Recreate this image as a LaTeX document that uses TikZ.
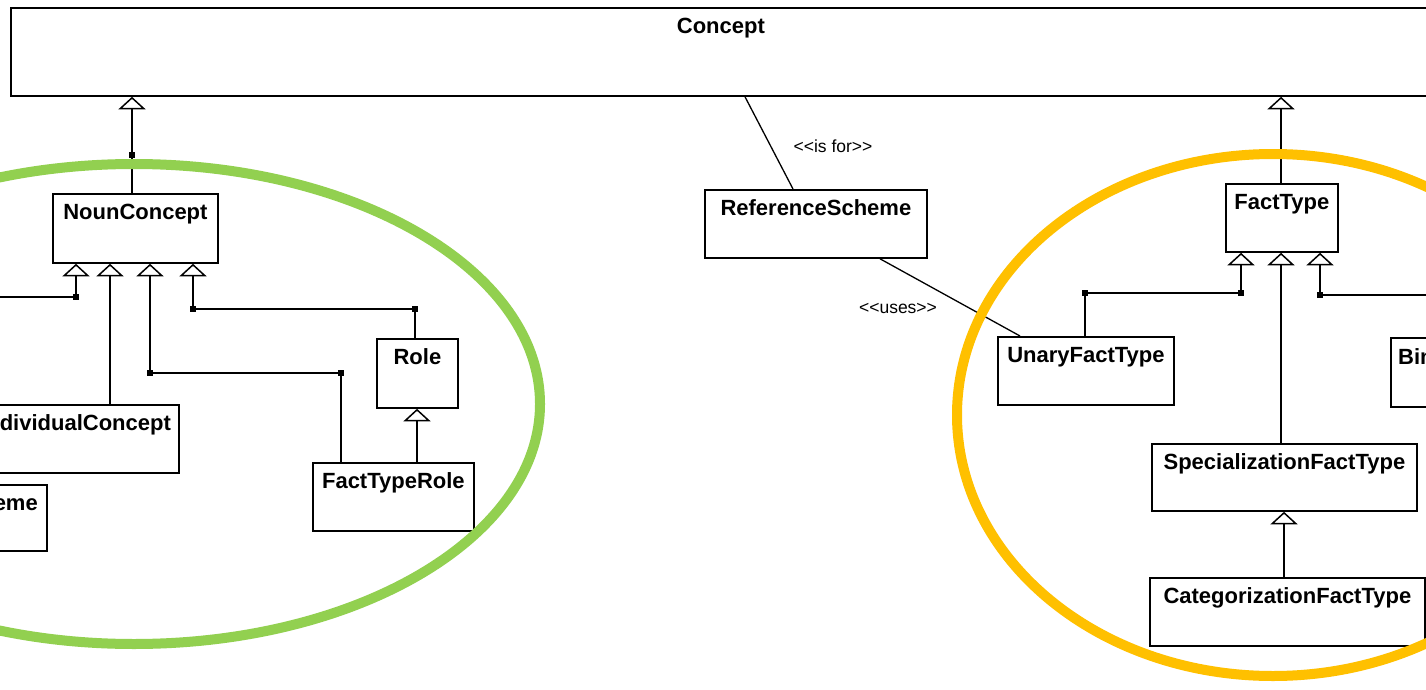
\documentclass[tikz,border=0pt]{standalone}
\usepackage{fontspec}
\setmainfont{Liberation Sans}
\usetikzlibrary{arrows.meta,calc}
\definecolor{ellgreen}{HTML}{92D050}
\definecolor{ellorange}{HTML}{FFC000}
\tikzset{
  cls/.style={draw, line width=1.8pt, anchor=north west, inner sep=0pt,
    font=\fontsize{22}{26}\selectfont\bfseries, text height=26pt},
  clstext/.style={inner sep=0pt, font=\fontsize{22}{26}\selectfont\bfseries},
  gen/.style={line width=1.8pt, -{Triangle[fill=white, width=27pt, length=12.5pt, line width=1.5pt]}},
  conn/.style={line width=1.8pt},
  assoc/.style={line width=1.3pt},
  jdot/.style={fill, minimum size=6pt, inner sep=0pt},
  lbl/.style={font=\fontsize{17.5}{20}\selectfont},
  ell/.style={line width=10pt}
}
\begin{document}
\begin{tikzpicture}[x=1pt,y=-1pt]
\clip (0,0) rectangle (1426,690);
\fill[white] (0,0) rectangle (1426,690);
% boxes
\node[cls, minimum width=1420pt, minimum height=88pt, text depth=62pt] (concept) at (10,7) {Concept};
\node[cls, minimum width=165pt, minimum height=69pt, text depth=43pt] (nc) at (52,193) {NounConcept};
\node[cls, minimum width=207pt, minimum height=68pt, text depth=42pt, text width=191pt, align=right] (indiv) at (-29,404) {dividualConcept};
\node[cls, minimum width=146pt, minimum height=66pt] (eme) at (-100,484) {};
\node[clstext, anchor=base east] (emet) at (38,510) {eme};
\node[cls, minimum width=81pt, minimum height=69pt, text depth=43pt] (role) at (376,338) {Role};
\node[cls, minimum width=161pt, minimum height=68pt, text depth=42pt] (ftr) at (312,462) {FactTypeRole};
\node[cls, minimum width=222pt, minimum height=68pt, text depth=42pt] (rs) at (704,189) {ReferenceScheme};
\node[cls, minimum width=112pt, minimum height=68pt, text depth=42pt] (ft) at (1225,183) {FactType};
\node[cls, minimum width=176pt, minimum height=68pt, text depth=42pt] (unary) at (997,336) {UnaryFactType};
\node[cls, minimum width=110pt, minimum height=69pt] (bin) at (1390,337) {};
\node[clstext, anchor=base west] (bint) at (1398,364) {Bin};
\node[cls, minimum width=265pt, minimum height=67pt, text depth=41pt] (spec) at (1151,443) {SpecializationFactType};
\node[cls, minimum width=275pt, minimum height=68pt, text depth=42pt] (cat) at (1149,577) {CategorizationFactType};
% Concept <- NounConcept
\node[jdot] (d0) at (132,155) {};
\draw[gen] (nc.north -| d0) -- (concept.south -| d0);
% left group
\node[jdot] (d1) at (76,297) {};
\coordinate (e1) at (-5,297);
\draw[conn] (e1) -- (d1.center);
\draw[gen] (d1.center) -- (nc.south -| d1);
\draw[gen] (indiv.north -| 110,0) -- (nc.south -| 110,0);
\node[jdot] (d2) at (150,373) {};
\node[jdot] (d3) at (341,373) {};
\draw[gen] (ftr.north -| d3) -- (d3.center) -- (d2.center) -- (nc.south -| d2);
\node[jdot] (d4) at (193,309) {};
\node[jdot] (d5) at (415,309) {};
\draw[gen] (role.north -| d5) -- (d5.center) -- (d4.center) -- (nc.south -| d4);
\draw[gen] (ftr.north -| 417,0) -- (role.south -| 417,0);
% associations
\draw[assoc] (rs.north -| 793,0) -- (concept.south -| 745,0);
\node[lbl] (l1) at (833,146) {<\kern0pt<is for>\kern0pt>};
\draw[assoc] (rs.south -| 880,0) -- (unary.north -| 1020,0);
\node[lbl] (l2) at (898,308) {<\kern0pt<uses>\kern0pt>};
% right group
\draw[gen] (ft.north -| 1281,0) -- (concept.south -| 1281,0);
\node[jdot] (d6) at (1241,293) {};
\node[jdot] (d7) at (1085,293) {};
\draw[gen] (unary.north -| d7) -- (d7.center) -- (d6.center) -- (ft.south -| d6);
\draw[gen] (spec.north -| 1281,0) -- (ft.south -| 1281,0);
\node[jdot] (d8) at (1320,295) {};
\coordinate (e2) at (1440,295);
\draw[conn] (e2) -- (d8.center);
\draw[gen] (d8.center) -- (ft.south -| d8);
\draw[gen] (cat.north -| 1284,0) -- (spec.south -| 1284,0);
% highlight ellipses
\draw[ell, ellgreen] (134,404) ellipse [x radius=406pt, y radius=240pt];
\draw[ell, ellorange] (1273,415) ellipse [x radius=316pt, y radius=261pt];
\end{tikzpicture}
\end{document}
